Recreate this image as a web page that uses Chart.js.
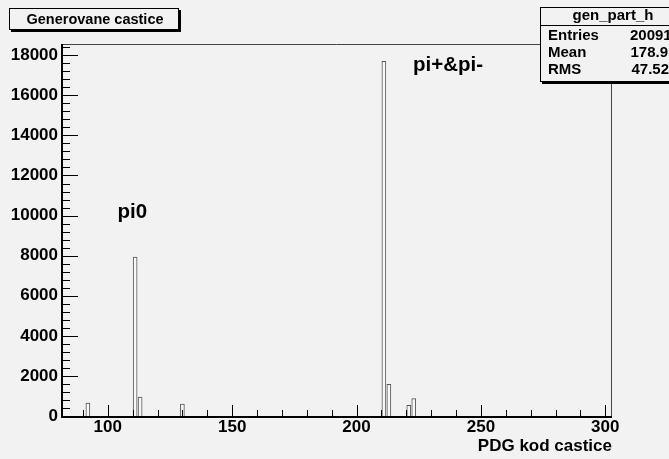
<!DOCTYPE html>
<html lang="en">
<head>
<meta charset="UTF-8">
<title>gen_part_h</title>
<script src="https://cdn.jsdelivr.net/npm/chart.js"></script>
<style>
  html, body { margin: 0; padding: 0; background: #f2f2f2; }
  canvas { display: block; }
</style>
</head>
<body>
<canvas id="pdgChart" width="669" height="459"></canvas>
<script>
// generated particles: PDG code -> number of entries
const pdgCodes = [92, 111, 113, 130, 211, 213, 221, 223];
const counts = [650, 7930, 950, 600, 17700, 1580, 530, 870];

const xTicks = [100, 150, 200, 250, 300];
const yTicks = [0, 2000, 4000, 6000, 8000, 10000, 12000, 14000, 16000, 18000];

const peakLabels = ['pi0', 'pi+&pi-'];
const peakLabelX = [103.9, 222.7];
const peakLabelY = [9880, 17200];

const statsName = 'gen_part_h';
const statsLabels = ['Entries', 'Mean', 'RMS'];
const statsValues = ['200911', '178.9', '47.52'];

const FONT = "'Liberation Sans', Arial, Helvetica, sans-serif";

// ROOT style frame, inner ticks, title box and stats box
const rootStyle = {
    id: 'rootStyle',
    beforeDraw(chart) {
        const ctx = chart.ctx;
        ctx.save();
        ctx.fillStyle = '#f2f2f2';
        ctx.fillRect(0, 0, chart.width, chart.height);
        ctx.restore();
    },
    afterDatasetsDraw(chart) {
        const ctx = chart.ctx;
        const a = chart.chartArea;
        const xs = chart.scales.x, ys = chart.scales.y;
        ctx.save();
        // frame
        ctx.strokeStyle = '#444';
        ctx.lineWidth = 1;
        ctx.beginPath();
        ctx.moveTo(a.left, a.top + 0.5);
        ctx.lineTo(a.right - 0.5, a.top + 0.5);
        ctx.lineTo(a.right - 0.5, a.bottom);
        ctx.stroke();
        // axes
        ctx.strokeStyle = '#000';
        ctx.lineWidth = 2;
        ctx.beginPath();
        ctx.moveTo(a.left, a.top);
        ctx.lineTo(a.left, a.bottom + 1);
        ctx.lineTo(a.right, a.bottom + 1);
        ctx.stroke();
        // ticks
        ctx.lineWidth = 1;
        ctx.beginPath();
        for (let v = 0; v <= ys.max; v += 400) {
            const y = Math.round(ys.getPixelForValue(v)) + 0.5;
            const len = v % 2000 === 0 ? 16 : 8;
            ctx.moveTo(a.left, y);
            ctx.lineTo(a.left + len, y);
        }
        for (let v = 90; v <= 300; v += 10) {
            const x = Math.round(xs.getPixelForValue(v)) + 0.5;
            const len = v % 50 === 0 ? 11 : 6;
            ctx.moveTo(x, a.bottom);
            ctx.lineTo(x, a.bottom - len);
        }
        ctx.stroke();
        // peak labels
        ctx.fillStyle = '#000';
        ctx.font = 'bold 20.5px ' + FONT;
        ctx.textBaseline = 'alphabetic';
        peakLabels.forEach((t, i) => {
            ctx.fillText(t, xs.getPixelForValue(peakLabelX[i]), ys.getPixelForValue(peakLabelY[i]));
        });
        ctx.restore();
    },
    afterDraw(chart) {
        const ctx = chart.ctx;
        ctx.save();
        // title box
        ctx.fillStyle = '#000';
        ctx.fillRect(11, 10, 170, 22);
        ctx.fillStyle = '#f2f2f2';
        ctx.fillRect(9, 8, 170, 22);
        ctx.strokeStyle = '#000';
        ctx.lineWidth = 1;
        ctx.strokeRect(9.5, 8.5, 169, 21);
        ctx.fillStyle = '#000';
        ctx.font = 'bold 14.5px ' + FONT;
        ctx.textAlign = 'center';
        ctx.textBaseline = 'middle';
        ctx.fillText('Generovane castice', 95, 20);

        // stats box
        ctx.fillStyle = '#000';
        ctx.fillRect(542, 9, 160, 75);
        ctx.fillStyle = '#f2f2f2';
        ctx.fillRect(540, 7, 160, 75);
        ctx.strokeStyle = '#000';
        ctx.strokeRect(540.5, 7.5, 160, 74);
        ctx.beginPath();
        ctx.moveTo(540, 25.5);
        ctx.lineTo(700, 25.5);
        ctx.stroke();
        ctx.fillStyle = '#000';
        ctx.font = 'bold 15px ' + FONT;
        ctx.textAlign = 'center';
        ctx.fillText(statsName, 613, 16);
        const rowY = [36, 53, 70];
        statsLabels.forEach((t, i) => {
            ctx.textAlign = 'left';
            ctx.fillText(t, 548, rowY[i]);
        });
        ctx.textAlign = 'left';
        ctx.fillText(statsValues[0], 630, rowY[0]);
        ctx.textAlign = 'right';
        ctx.fillText(statsValues[1], 668, rowY[1]);
        ctx.fillText(statsValues[2], 669, rowY[2]);
        ctx.restore();
    }
};

const ctx = document.getElementById('pdgChart').getContext('2d');
const pdgChart = new Chart(ctx, {
    type: 'bar',
    data: {
        datasets: [{
            label: statsName,
            data: pdgCodes.map((c, i) => ({ x: c, y: counts[i] })),
            barThickness: 4,
            borderWidth: 1,
            borderColor: '#555555',
            backgroundColor: '#f8f8f8',
            borderSkipped: 'bottom'
        }]
    },
    options: {
        responsive: false,
        animation: false,
        layout: { padding: { top: 44, right: 57, left: 0, bottom: 0 } },
        plugins: {
            legend: { display: false },
            tooltip: { enabled: false }
        },
        scales: {
            x: {
                type: 'linear',
                offset: false,
                min: 81.6,
                max: 302.7,
                afterBuildTicks: s => { s.ticks = xTicks.map(v => ({ value: v })); },
                afterFit: s => { s.height = 43; },
                grid: { display: false, drawTicks: false, offset: false },
                border: { display: false },
                ticks: {
                    maxRotation: 0,
                    padding: 1,
                    color: '#000',
                    callback: v => String(v),
                    font: { family: FONT, size: 17, weight: 'bold' }
                },
                title: {
                    display: true,
                    text: 'PDG kod castice',
                    align: 'end',
                    color: '#000',
                    padding: { top: 0, bottom: 2 },
                    font: { family: FONT, size: 17, weight: 'bold' }
                }
            },
            y: {
                min: 0,
                max: 18560,
                afterBuildTicks: s => { s.ticks = yTicks.map(v => ({ value: v })); },
                afterFit: s => { s.width = 62; },
                grid: { display: false, drawTicks: false },
                border: { display: false },
                ticks: {
                    padding: 4,
                    color: '#000',
                    callback: v => String(v),
                    font: { family: FONT, size: 17, weight: 'bold' }
                }
            }
        }
    },
    plugins: [rootStyle]
});
</script>
</body>
</html>
